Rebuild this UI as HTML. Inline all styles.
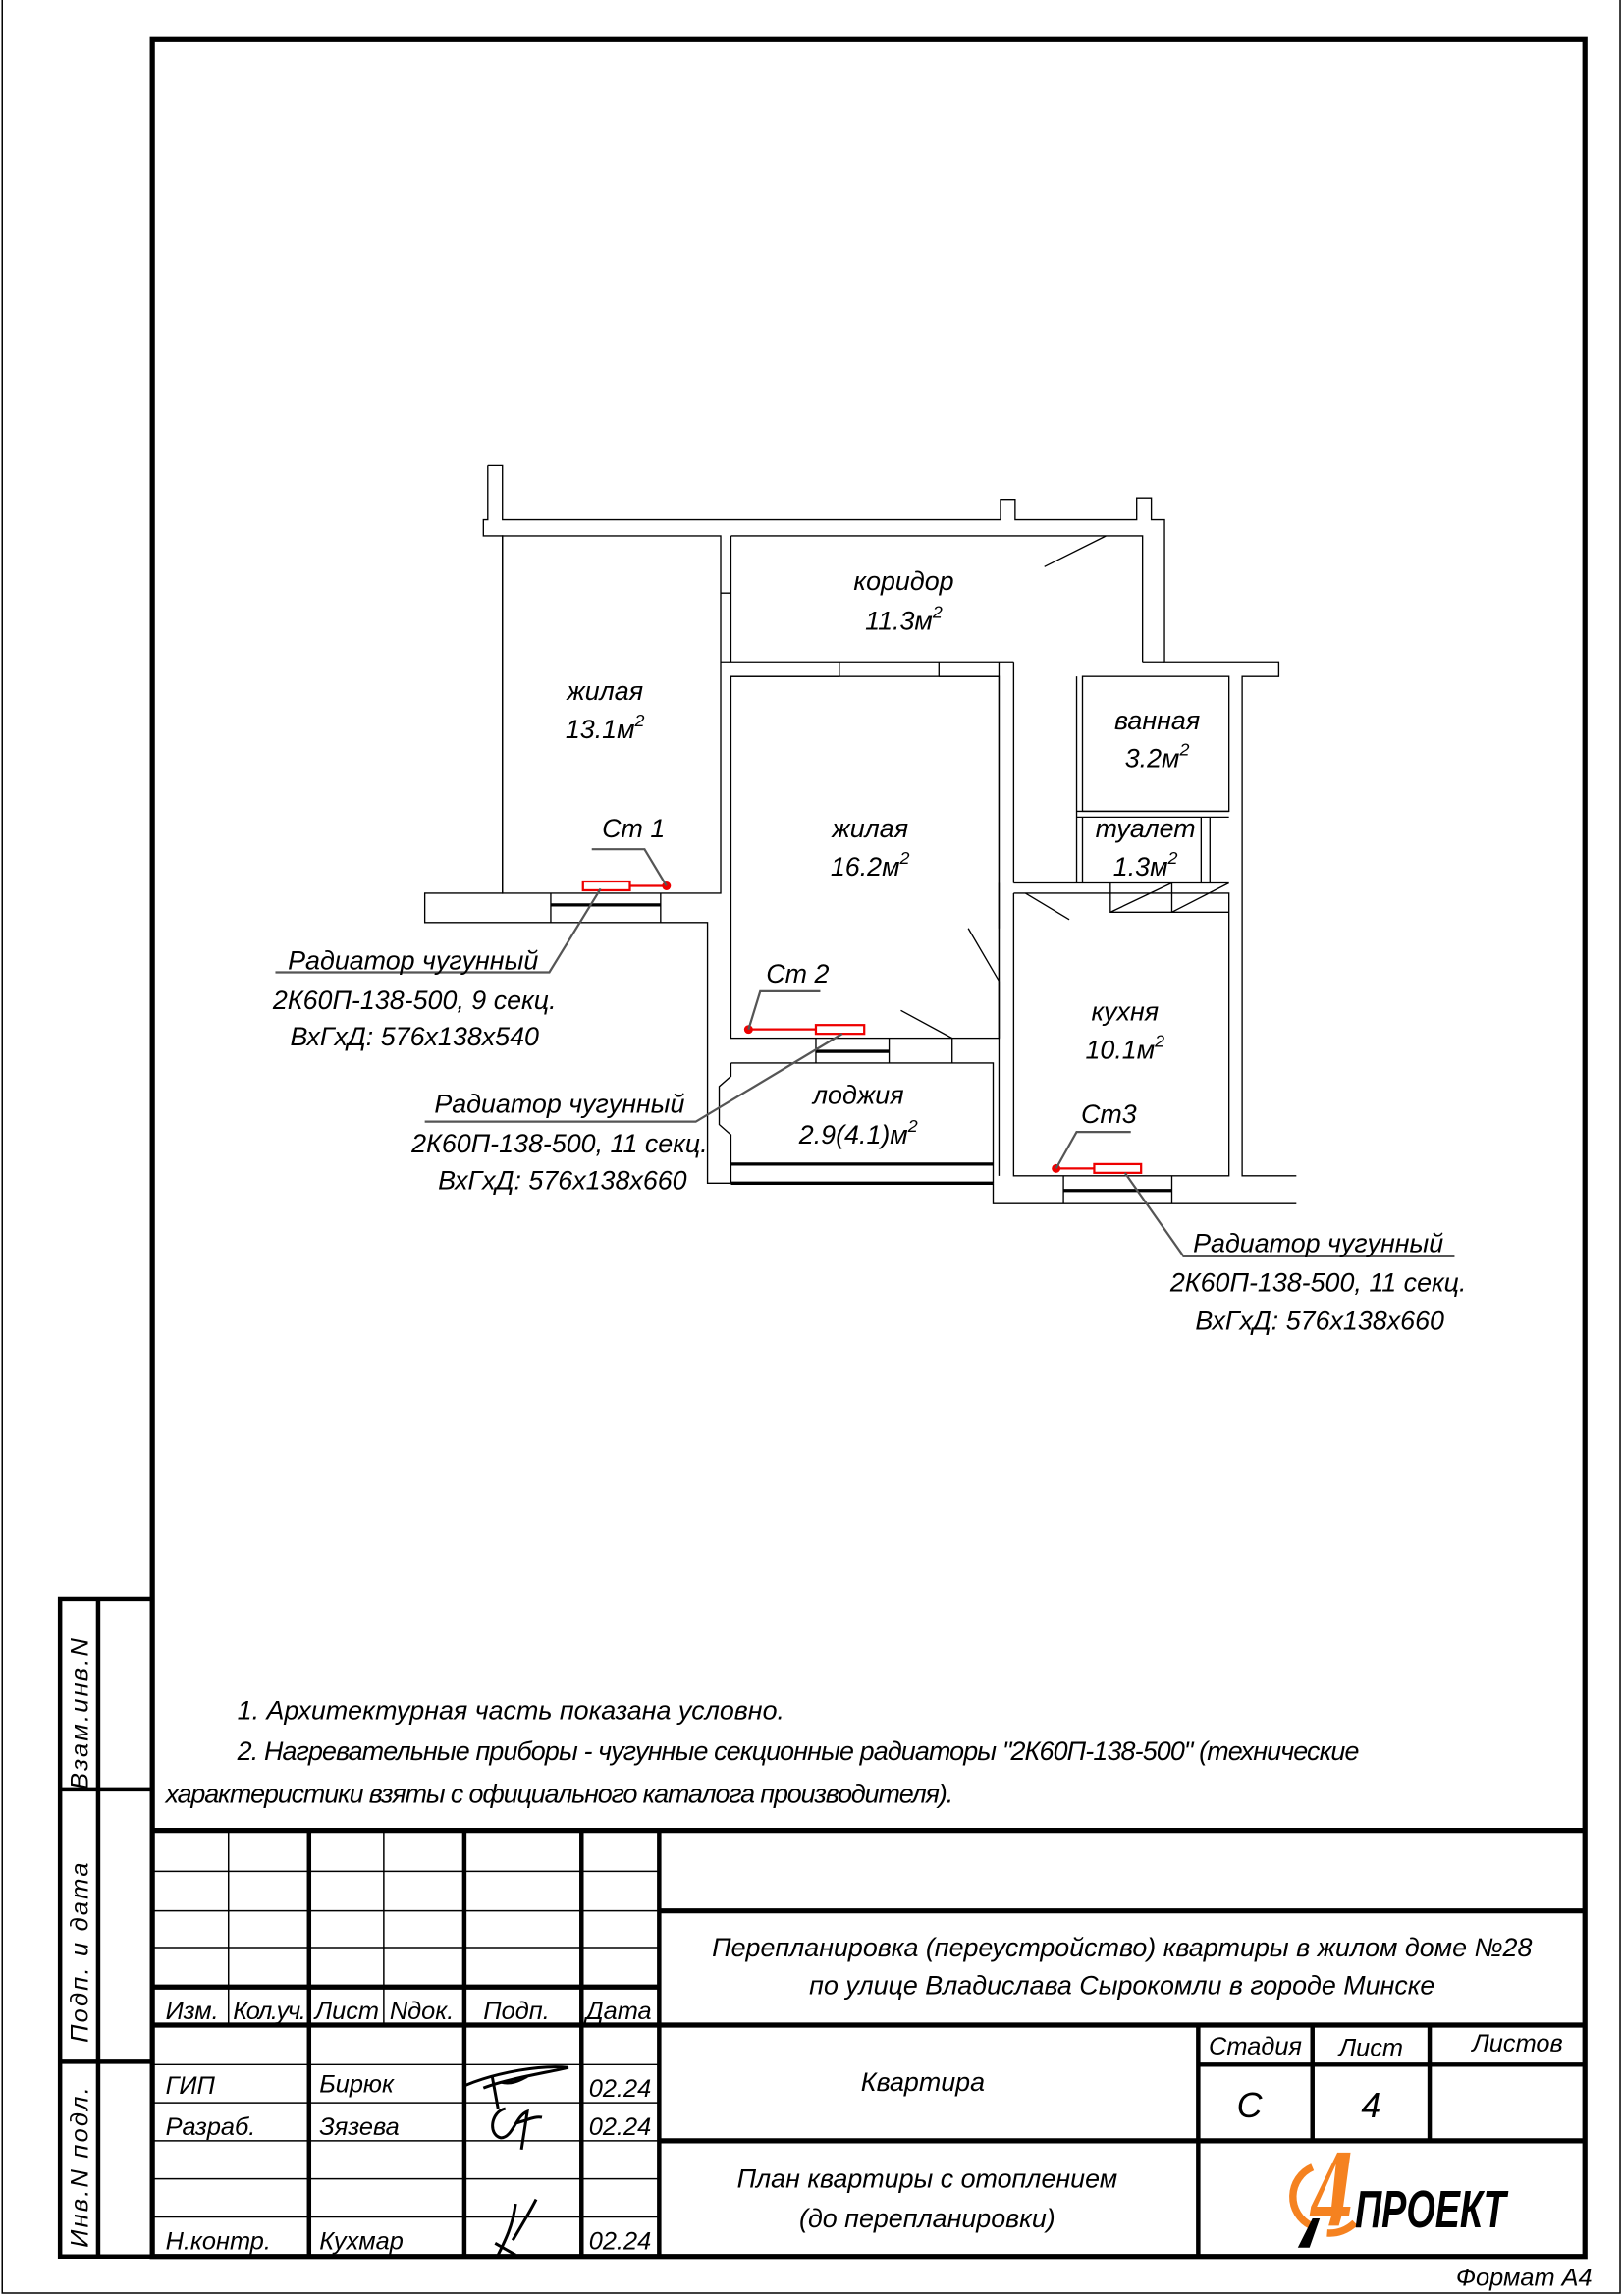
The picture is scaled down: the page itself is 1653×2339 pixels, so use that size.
<!DOCTYPE html>
<html><head><meta charset="utf-8"><style>
html,body{margin:0;padding:0;background:#fff}
svg{display:block}
text{font-family:"Liberation Sans Narrow","Liberation Sans",sans-serif;font-style:italic;fill:#000}
</style></head><body>
<svg width="1653" height="2339" viewBox="0 0 1108 1568" preserveAspectRatio="none" xmlns="http://www.w3.org/2000/svg">
<rect x="0" y="0" width="1108" height="1568" fill="#fff"/>
<!-- thin page edges -->
<path d="M1.5,0 V1566 H1106 V0" fill="none" stroke="#000" stroke-width="1"/>
<!-- main frame -->
<rect x="104" y="27" width="978" height="1514" fill="none" stroke="#000" stroke-width="3.5"/>
<!-- side strip -->
<g stroke="#000" stroke-width="3" fill="none">
<path d="M104,1092 H41 V1541 H104"/>
<line x1="67" y1="1092" x2="67" y2="1541"/>
<line x1="41" y1="1222" x2="104" y2="1222"/>
<line x1="41" y1="1408" x2="104" y2="1408"/>
</g>
<text transform="translate(60,1222) rotate(-90)" font-size="17" font-style="normal" letter-spacing="1.5">Взам.инв.N</text>
<text transform="translate(60,1395) rotate(-90)" font-size="17" font-style="normal" letter-spacing="1.5">Подп. и дата</text>
<text transform="translate(60,1535) rotate(-90)" font-size="17" font-style="normal" letter-spacing="1.5">Инв.N подл.</text>

<!-- notes -->
<text x="162" y="1174" font-size="18">1. Архитектурная часть показана условно.</text>
<text x="162" y="1202" font-size="18" textLength="766">2. Нагревательные приборы - чугунные секционные радиаторы "2К60П-138-500" (технические</text>
<text x="113" y="1231" font-size="18" textLength="538">характеристики взяты с официального каталога производителя).</text>

<!-- title block -->
<g stroke="#000" fill="none">
<line x1="104" y1="1250" x2="1082" y2="1250" stroke-width="3.5"/>
<line x1="450" y1="1305" x2="1082" y2="1305" stroke-width="3.5"/>
<line x1="450" y1="1383" x2="1082" y2="1383" stroke-width="3.5"/>
<line x1="450" y1="1462" x2="1082" y2="1462" stroke-width="3.5"/>
<line x1="104" y1="1357" x2="450" y2="1357" stroke-width="3.5"/>
<line x1="104" y1="1383" x2="450" y2="1383" stroke-width="3.5"/>
<g stroke-width="1">
<line x1="104" y1="1278" x2="450" y2="1278"/>
<line x1="104" y1="1305" x2="450" y2="1305"/>
<line x1="104" y1="1330" x2="450" y2="1330"/>
<line x1="104" y1="1410" x2="450" y2="1410"/>
<line x1="104" y1="1436" x2="450" y2="1436"/>
<line x1="104" y1="1462" x2="450" y2="1462"/>
<line x1="104" y1="1488" x2="450" y2="1488"/>
<line x1="104" y1="1514" x2="450" y2="1514"/>
<line x1="156" y1="1250" x2="156" y2="1383"/>
<line x1="262" y1="1250" x2="262" y2="1383"/>
</g>
<g stroke-width="3">
<line x1="211" y1="1250" x2="211" y2="1541"/>
<line x1="317" y1="1250" x2="317" y2="1541"/>
<line x1="397" y1="1250" x2="397" y2="1541"/>
<line x1="450" y1="1250" x2="450" y2="1541"/>
<line x1="818" y1="1383" x2="818" y2="1541"/>
<line x1="896" y1="1383" x2="896" y2="1462"/>
<line x1="976" y1="1383" x2="976" y2="1462"/>
<line x1="818" y1="1410" x2="1082" y2="1410"/>
</g>
</g>
<g font-size="17">
<text x="113" y="1379">Изм.</text>
<text x="159" y="1379" textLength="50">Кол.уч.</text>
<text x="215" y="1379">Лист</text>
<text x="266" y="1379">Nдок.</text>
<text x="330" y="1379">Подп.</text>
<text x="400" y="1379">Дата</text>
<text x="113" y="1430">ГИП</text>
<text x="218" y="1429">Бирюк</text>
<text x="402" y="1432">02.24</text>
<text x="113" y="1458">Разраб.</text>
<text x="218" y="1458">Зязева</text>
<text x="402" y="1458">02.24</text>
<text x="113" y="1536">Н.контр.</text>
<text x="218" y="1536">Кухмар</text>
<text x="402" y="1536">02.24</text>
<text x="766" y="1336" font-size="18" text-anchor="middle">Перепланировка (переустройство) квартиры в жилом доме №28</text>
<text x="766" y="1362" font-size="18" text-anchor="middle">по улице Владислава Сырокомли в городе Минске</text>
<text x="630" y="1428" font-size="18" text-anchor="middle">Квартира</text>
<text x="633" y="1494" font-size="18" text-anchor="middle">План квартиры с отоплением</text>
<text x="633" y="1521" font-size="18" text-anchor="middle">(до перепланировки)</text>
<text x="857" y="1403" text-anchor="middle">Стадия</text>
<text x="936" y="1404" text-anchor="middle">Лист</text>
<text x="1036" y="1401" text-anchor="middle">Листов</text>
<text x="853" y="1446" font-size="24" text-anchor="middle">С</text>
<text x="936" y="1446" font-size="24" text-anchor="middle">4</text>
<text x="1087" y="1561" text-anchor="end">Формат А4</text>
</g>
<!-- signatures -->
<g fill="none" stroke="#000" stroke-width="2">
<path d="M318,1424 C340,1415 370,1410 388,1412 C370,1416 345,1420 330,1426 M336,1418 L340,1440 M342,1422 C350,1424 356,1420 360,1418"/>
<path d="M345,1440 C335,1442 333,1458 342,1460 C350,1460 352,1445 360,1442 L356,1468 M352,1450 C360,1448 365,1445 370,1446"/>
<path d="M340,1540 C345,1530 350,1520 352,1505 M350,1530 C356,1520 362,1510 366,1502 M338,1532 L352,1540"/>
</g>
<!-- logo -->
<g>
<path d="M896,1480 A22,22 0 0 0 895,1520" fill="none" stroke="#f58220" stroke-width="5"/>
<path d="M906,1525 A24,24 0 0 0 925,1518" fill="none" stroke="#f58220" stroke-width="5"/>
<polygon points="913,1470 922,1470 917,1507 922,1507 921,1513 916,1513 914,1520 907,1520 909,1513 894,1513 895,1507" fill="#f58220"/>
<polygon points="912,1478 899,1507 909,1507" fill="#fff"/>
<polygon points="896,1515 901,1515 894,1535 886,1535" fill="#000"/>
<text x="925" y="1521" font-size="36" font-weight="bold" font-family="Liberation Sans Narrow, Liberation Sans, sans-serif" textLength="103" lengthAdjust="spacingAndGlyphs">ПРОЕКТ</text>
</g>

<!-- FLOOR PLAN -->
<g fill="none" stroke="#000" stroke-width="0.9">
<!-- outer outline -->
<path d="M333,318 H343 V355 H683 V341 H693 V355 H776 V340 H786 V355 H795 V452 H873 V462 H848 V803 H885"/>
<path d="M333,318 V355 H330 V366 H343 V610 H290 V630 H483 V808 H499"/>
<path d="M678,808 V822 H885"/>
<!-- rooms -->
<rect x="343" y="366" width="149" height="244"/>
<path d="M499,366 H780 V452 M499,366 V452"/>
<path d="M492,405 H499 M780,452 H795"/>
<path d="M492,452 H692 M499,462 H573 M641,462 H682 M573,452 V462 M641,452 V462"/>
<rect x="499" y="462" width="183" height="247"/>
<path d="M682,452 V803 M692,452 V603 M692,610 V803 H839 V610 H692"/>
<path d="M682,603 V634 M682,670 V709"/>
<rect x="739" y="462" width="100" height="92"/>
<path d="M735,462 V603 M739,558 H820 V603 M826,558 V603 M739,558 V603 M735,554 H839 M735,558 H839"/>
<path d="M692,603 H839 M758,603 V623 H839 M800,603 V623 M758,623 L800,603 M800,623 L839,603"/>
<path d="M700,610 L730,628"/>
<path d="M713,387 L755,366"/>
<path d="M661,634 L682,670"/>
<path d="M615,690 L650,709"/>
<!-- loggia -->
<path d="M499,726 H678 V808 M499,726 V735 L491,742 V768 L499,775 V808"/>
<path d="M557,709 V726 M607,709 V726 M650,709 V726"/>
<path d="M376,610 V630 M451,610 V630"/>
<path d="M726,803 V822 M800,803 V822"/>
</g>
<g stroke="#000" stroke-width="2.2">
<line x1="376" y1="618" x2="451" y2="618"/>
<line x1="557" y1="718" x2="607" y2="718"/>
<line x1="499" y1="795" x2="678" y2="795"/>
<line x1="499" y1="808" x2="678" y2="808"/>
<line x1="726" y1="813" x2="800" y2="813"/>
</g>
<!-- radiators -->
<g stroke="#e00" stroke-width="1.5" fill="none">
<rect x="398" y="602" width="32" height="6"/>
<line x1="430" y1="605" x2="455" y2="605"/>
<line x1="511" y1="703" x2="557" y2="703"/>
<rect x="557" y="700" width="33" height="6"/>
<line x1="721" y1="798" x2="747" y2="798"/>
<rect x="747" y="795" width="32" height="6"/>
</g>
<g fill="#e00"><circle cx="455" cy="605" r="3"/><circle cx="511" cy="703" r="3"/><circle cx="721" cy="798" r="3"/></g>
<!-- leaders -->
<g stroke="#555" stroke-width="1.5" fill="none">
<path d="M404,580 H440 L455,605"/>
<path d="M410,607 L375,664 H188"/>
<path d="M560,677 H519 L511,703"/>
<path d="M575,706 L475,766 H290"/>
<path d="M772,773 H735 L721,798"/>
<path d="M768,801 L808,858 H993"/>
</g>
<g font-size="18">
<text x="411" y="572">Ст 1</text>
<text x="523" y="671">Ст 2</text>
<text x="738" y="767">Ст3</text>
<text x="282" y="662" text-anchor="middle">Радиатор чугунный</text>
<text x="283" y="689" text-anchor="middle">2К60П-138-500, 9 секц.</text>
<text x="283" y="714" text-anchor="middle">ВхГхД: 576х138х540</text>
<text x="382" y="760" text-anchor="middle">Радиатор чугунный</text>
<text x="382" y="787" text-anchor="middle">2К60П-138-500, 11 секц.</text>
<text x="384" y="812" text-anchor="middle">ВхГхД: 576х138х660</text>
<text x="900" y="855" text-anchor="middle">Радиатор чугунный</text>
<text x="900" y="882" text-anchor="middle">2К60П-138-500, 11 секц.</text>
<text x="901" y="908" text-anchor="middle">ВхГхД: 576х138х660</text>
<text x="617" y="403" text-anchor="middle">коридор</text>
<text x="617" y="430" text-anchor="middle">11.3м<tspan font-size="12" dy="-8">2</tspan></text>
<text x="413" y="478" text-anchor="middle">жилая</text>
<text x="413" y="504" text-anchor="middle">13.1м<tspan font-size="12" dy="-8">2</tspan></text>
<text x="594" y="572" text-anchor="middle">жилая</text>
<text x="594" y="598" text-anchor="middle">16.2м<tspan font-size="12" dy="-8">2</tspan></text>
<text x="790" y="498" text-anchor="middle">ванная</text>
<text x="790" y="524" text-anchor="middle">3.2м<tspan font-size="12" dy="-8">2</tspan></text>
<text x="782" y="572" text-anchor="middle">туалет</text>
<text x="782" y="598" text-anchor="middle">1.3м<tspan font-size="12" dy="-8">2</tspan></text>
<text x="768" y="697" text-anchor="middle">кухня</text>
<text x="768" y="723" text-anchor="middle">10.1м<tspan font-size="12" dy="-8">2</tspan></text>
<text x="586" y="754" text-anchor="middle">лоджия</text>
<text x="586" y="781" text-anchor="middle">2.9(4.1)м<tspan font-size="12" dy="-8">2</tspan></text>
</g>
</svg>
</body></html>
